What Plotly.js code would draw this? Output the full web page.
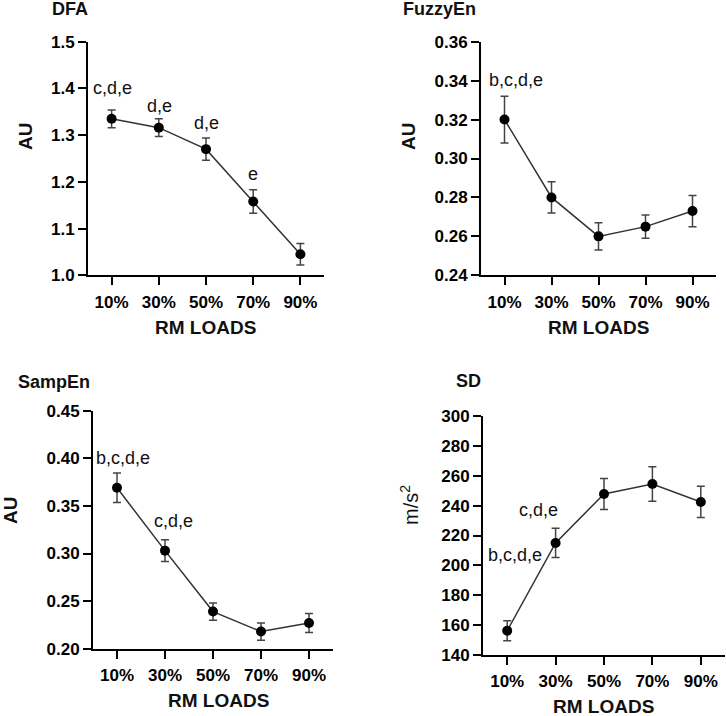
<!DOCTYPE html>
<html>
<head>
<meta charset="utf-8">
<script src="https://cdn.plot.ly/plotly-3.0.1.min.js"></script>
<style>
  html, body { margin: 0; padding: 0; background: #fff; }
  #chart { width: 726px; height: 716px; }
</style>
</head>
<body>
<div id="chart"></div>
<script>
// RM load levels shared by all four panels
const loads = ['10%', '30%', '50%', '70%', '90%'];

// DFA (AU)
const dfaMean = [1.335, 1.316, 1.270, 1.158, 1.045];
const dfaErr  = [0.019, 0.019, 0.024, 0.025, 0.023];
const dfaTicks = [1.0, 1.1, 1.2, 1.3, 1.4, 1.5];

// Fuzzy entropy (AU)
const fuzzyMean = [0.320, 0.280, 0.260, 0.265, 0.273];
const fuzzyErr  = [0.012, 0.008, 0.007, 0.006, 0.008];
const fuzzyTicks = [0.24, 0.26, 0.28, 0.30, 0.32, 0.34, 0.36];

// Sample entropy (AU)
const sampMean = [0.369, 0.303, 0.239, 0.218, 0.227];
const sampErr  = [0.0155, 0.0115, 0.009, 0.009, 0.010];
const sampTicks = [0.20, 0.25, 0.30, 0.35, 0.40, 0.45];

// Standard deviation (m/s²)
const sdMean = [156.1, 215.0, 247.9, 254.6, 242.5];
const sdErr  = [6.7, 9.8, 10.4, 11.6, 10.5];
const sdTicks = [140, 160, 180, 200, 220, 240, 260, 280, 300];

// Significance letters: [panel, category, anchor value, text, x shift px]
const sigLabels = [
  ['1', '10%', 1.401, 'c,d,e', 1],
  ['1', '30%', 1.362, 'd,e', 1],
  ['1', '50%', 1.326, 'd,e', 0],
  ['1', '70%', 1.217, 'e', 0],
  ['2', '10%', 0.3403, 'b,c,d,e', 11],
  ['3', '10%', 0.4003, 'b,c,d,e', 6],
  ['3', '30%', 0.3341, 'c,d,e', 8],
  ['4', '30%', 237.1, 'c,d,e', -17],
  ['4', '10%', 206.9, 'b,c,d,e', 8]
];

const W = 726, H = 716;
const px = v => v / W;
const py = v => 1 - v / H;

const FAMILY = 'Liberation Sans, Arial, sans-serif';
const tickFont = { family: FAMILY, size: 17, weight: 'bold', color: '#000' };
const titleFont = { family: FAMILY, size: 19, weight: 'bold', color: '#111' };
const headFont = { family: FAMILY, size: 18, weight: 'bold', color: '#111' };

function series(mean, err, n) {
  return {
    type: 'scatter',
    mode: 'lines+markers',
    x: loads,
    y: mean,
    xaxis: n === 1 ? 'x' : 'x' + n,
    yaxis: n === 1 ? 'y' : 'y' + n,
    line: { color: '#333', width: 1.5 },
    marker: { color: '#000', size: 10 },
    error_y: { type: 'data', array: err, visible: true, color: '#444', thickness: 1.5, width: 4 },
    showlegend: false,
    cliponaxis: false
  };
}

function xAxis(x0, x1, anchor) {
  return {
    type: 'category',
    domain: [px(x0), px(x1)],
    anchor: anchor,
    range: [-0.5, 4.5],
    showline: true, linecolor: '#000', linewidth: 2,
    ticks: 'outside', ticklen: 8, tickwidth: 2, tickcolor: '#000',
    ticklabelstandoff: 2,
    showgrid: false, zeroline: false,
    tickfont: tickFont,
    fixedrange: true
  };
}

function yAxis(yTop, yBottom, anchor, ticks, decimals) {
  return {
    domain: [py(yBottom), py(yTop)],
    anchor: anchor,
    range: [ticks[0], ticks[ticks.length - 1]],
    tickmode: 'array',
    tickvals: ticks,
    ticktext: ticks.map(t => t.toFixed(decimals)),
    showline: true, linecolor: '#000', linewidth: 2,
    ticks: 'outside', ticklen: 8, tickwidth: 2, tickcolor: '#000',
    showgrid: false, zeroline: false,
    tickfont: tickFont,
    fixedrange: true
  };
}

const data = [
  series(dfaMean, dfaErr, 1),
  series(fuzzyMean, fuzzyErr, 2),
  series(sampMean, sampErr, 3),
  series(sdMean, sdErr, 4)
];

function paperText(text, x, y, opts) {
  return Object.assign({
    xref: 'paper', yref: 'paper', x: px(x), y: py(y),
    text: text, showarrow: false,
    xanchor: 'center', yanchor: 'middle',
    font: titleFont
  }, opts || {});
}

const annotations = [
  // panel titles
  paperText('DFA', 50, 9, { xanchor: 'left', font: headFont }),
  paperText('FuzzyEn', 401, 9, { xanchor: 'left', font: headFont }),
  paperText('SampEn', 16, 382, { xanchor: 'left', font: headFont }),
  paperText('SD', 454, 381, { xanchor: 'left', font: headFont }),
  // x axis titles
  paperText('RM LOADS', 206, 327),
  paperText('RM LOADS', 598, 327),
  paperText('RM LOADS', 218, 700),
  paperText('RM LOADS', 603, 706),
  // y axis titles
  paperText('AU', 25, 137, { textangle: -90 }),
  paperText('AU', 408, 137, { textangle: -90 }),
  paperText('AU', 10, 511, { textangle: -90 }),
  paperText('m/s<sup>2</sup>', 409, 505, { textangle: -90, font: { family: FAMILY, size: 20, color: '#111' } })
];

sigLabels.forEach(([n, cat, v, text, dx]) => {
  annotations.push({
    xref: n === '1' ? 'x' : 'x' + n,
    yref: n === '1' ? 'y' : 'y' + n,
    x: cat, y: v, text: text, showarrow: false,
    xanchor: 'center', yanchor: 'middle', xshift: dx,
    font: { family: FAMILY, size: 18, color: '#111' }
  });
});

const layout = {
  width: W, height: H,
  margin: { l: 0, r: 0, t: 0, b: 0 },
  paper_bgcolor: '#fff', plot_bgcolor: '#fff',
  showlegend: false,
  xaxis:  xAxis(88, 324, 'y'),
  yaxis:  yAxis(41.7, 275.3, 'x', dfaTicks, 1),
  xaxis2: xAxis(481, 716, 'y2'),
  yaxis2: yAxis(41.7, 275.3, 'x2', fuzzyTicks, 2),
  xaxis3: xAxis(93, 333, 'y3'),
  yaxis3: yAxis(410.7, 648.7, 'x3', sampTicks, 2),
  xaxis4: xAxis(483, 725, 'y4'),
  yaxis4: yAxis(416.3, 654.7, 'x4', sdTicks, 0),
  annotations: annotations
};

Plotly.newPlot('chart', data, layout, { displayModeBar: false, staticPlot: true });
</script>
</body>
</html>
